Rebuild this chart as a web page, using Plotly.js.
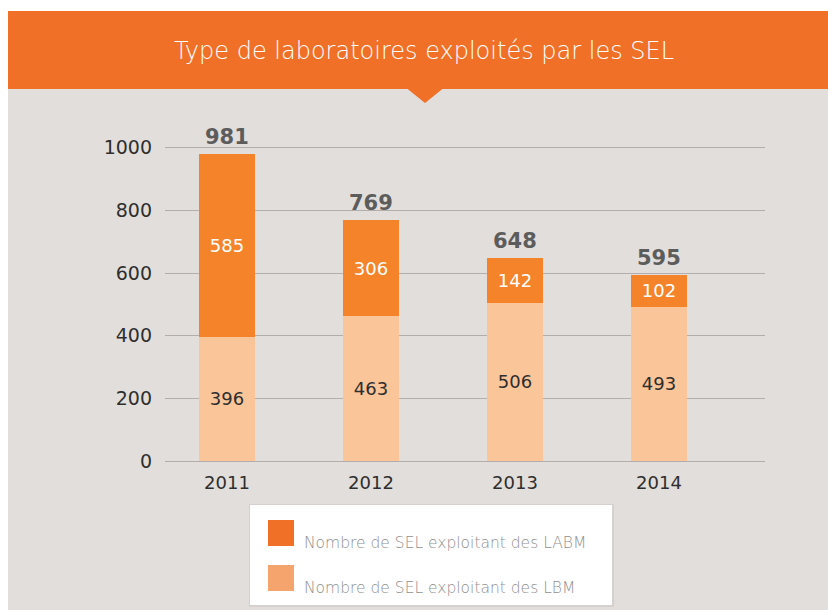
<!DOCTYPE html>
<html>
<head>
<meta charset="utf-8">
<script src="https://cdn.plot.ly/plotly-3.0.1.min.js"></script>
<style>html,body{margin:0;padding:0;background:#fff;}#chart{width:828px;height:610px;}</style>
</head>
<body>
<div id="chart"></div>
<script>
var years = ['2011', '2012', '2013', '2014'];
var lbm = [396, 463, 506, 493];
var labm = [585, 306, 142, 102];
var totals = [981, 769, 648, 595];
var seriesNames = ['Nombre de SEL exploitant des LABM', 'Nombre de SEL exploitant des LBM'];
var chartTitle = 'Type de laboratoires exploités par les SEL';
var yTicks = [0, 200, 400, 600, 800, 1000];

var xpos = years.map(function (y, i) { return i; });
var FONT = 'DejaVu Sans, Open Sans, sans-serif';

// pixel -> paper helpers (plot area: x 165..765, y 129..461)
function px(x) { return (x - 165) / 600; }
function py(y) { return (461 - y) / 332; }

var traces = [
  {
    type: 'bar', x: xpos, y: lbm, name: seriesNames[1], width: 0.395,
    marker: { color: '#fbc59a' },
    text: lbm.map(String), textposition: 'inside', insidetextanchor: 'middle',
    textfont: { color: '#2e2e2e', size: 18, family: FONT, weight: 400 },
    hoverinfo: 'name+y', showlegend: false
  },
  {
    type: 'bar', x: xpos, y: labm, name: seriesNames[0], width: 0.395,
    marker: { color: '#f5832a' },
    text: labm.map(String), textposition: 'inside', insidetextanchor: 'middle',
    textfont: { color: '#ffffff', size: 18, family: FONT, weight: 400 },
    hoverinfo: 'name+y', showlegend: false
  }
];

var annotations = totals.map(function (t, i) {
  return {
    x: xpos[i], y: t, xref: 'x', yref: 'y', text: '<b>' + t + '</b>',
    showarrow: false, yanchor: 'bottom', yshift: 3,
    font: { size: 21, color: '#5c5c5c', family: FONT }
  };
});

var legendColors = ['#f07027', '#f5a46e'];
var legendRows = [[520, 546], [565, 591]];
var shapes = [
  { type: 'rect', xref: 'paper', yref: 'paper', x0: px(8), x1: px(828), y0: py(610), y1: py(89),
    fillcolor: '#e2dedb', line: { width: 0 }, layer: 'below' },
  { type: 'rect', xref: 'paper', yref: 'paper', x0: px(8), x1: px(828), y0: py(89), y1: py(11),
    fillcolor: '#f07027', line: { width: 0 }, layer: 'below' },
  { type: 'path', xref: 'paper', yref: 'paper',
    path: 'M ' + px(407) + ' ' + py(88.5) + ' L ' + px(443) + ' ' + py(88.5) + ' L ' + px(425) + ' ' + py(103) + ' Z',
    fillcolor: '#f07027', line: { width: 0 }, layer: 'below' },
  { type: 'rect', xref: 'paper', yref: 'paper', x0: px(249), x1: px(614), y0: py(607), y1: py(504),
    fillcolor: '#d6d1ce', line: { width: 0 }, layer: 'below' },
  { type: 'rect', xref: 'paper', yref: 'paper', x0: px(250), x1: px(612), y0: py(605), y1: py(505),
    fillcolor: '#ffffff', line: { width: 0 }, layer: 'below' }
];
legendRows.forEach(function (r, i) {
  shapes.push({ type: 'rect', xref: 'paper', yref: 'paper', x0: px(268), x1: px(294), y0: py(r[1]), y1: py(r[0]),
    fillcolor: legendColors[i], line: { width: 0 }, layer: 'above' });
  annotations.push({ xref: 'paper', yref: 'paper', x: px(302), y: py(r[1] - 3), xanchor: 'left', yanchor: 'middle',
    text: seriesNames[i], showarrow: false, font: { size: 15.5, color: '#8f8f8f', family: FONT, weight: 200 } });
});

var layout = {
  width: 828, height: 610,
  margin: { l: 165, r: 63, t: 129, b: 149 },
  paper_bgcolor: '#ffffff',
  plot_bgcolor: 'rgba(0,0,0,0)',
  barmode: 'stack',
  showlegend: false,
  title: {
    text: chartTitle, x: px(424), xref: 'paper', xanchor: 'center',
    y: 1 - 51 / 610, yref: 'container', yanchor: 'middle',
    font: { size: 24, color: '#ffffff', family: FONT, weight: 200 }
  },
  xaxis: {
    range: [-0.4306, 3.736], tickvals: xpos, ticktext: years,
    showgrid: false, zeroline: false, showline: false, ticks: '',
    ticklabelstandoff: 9,
    tickfont: { size: 18, color: '#2e2e2e', family: FONT, weight: 400 }, fixedrange: true
  },
  yaxis: {
    range: [0, 1060], tickvals: yTicks,
    showgrid: true, gridcolor: '#b3aeac', gridwidth: 1,
    zeroline: true, zerolinecolor: '#b3aeac', zerolinewidth: 1,
    showline: false, ticks: '', ticklabelstandoff: 12,
    tickfont: { size: 19, color: '#2e2e2e', family: FONT, weight: 400 }, fixedrange: true
  },
  shapes: shapes,
  annotations: annotations,
  font: { family: FONT }
};

Plotly.newPlot('chart', traces, layout, { displayModeBar: false, staticPlot: true });
</script>
</body>
</html>
